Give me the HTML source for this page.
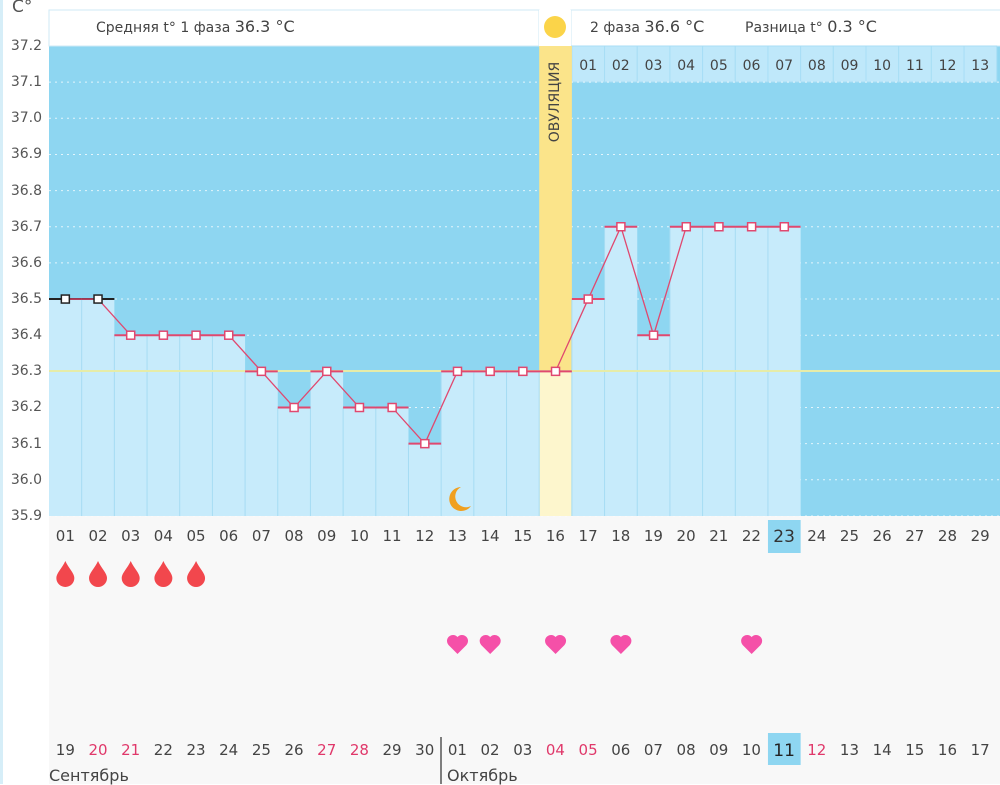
<!DOCTYPE html>
<html><head><meta charset="utf-8"><style>
body{margin:0;width:1000px;height:784px;overflow:hidden;background:#fff;font-family:"DejaVu Sans","Liberation Sans",sans-serif;position:relative}
.row{position:absolute;left:49px;display:flex;font-size:14px;color:#444}
.row span{width:32.68px;text-align:center;flex:none}
.ylab{position:absolute;left:0;width:42px;text-align:right;font-size:14px;color:#555}
.r{color:#e0386a}
</style></head><body>
<div style="position:absolute;left:0;top:0;width:3px;height:784px;background:#d6eef8"></div>
<svg id="s" width="1000" height="784" style="position:absolute;left:0;top:0"></svg>
<div style="position:absolute;left:12px;top:-3px;font-size:17px;color:#555">C°</div>
<div class="ylab" style="top:38px">37.2</div>
<div class="ylab" style="top:74px">37.1</div>
<div class="ylab" style="top:110px">37.0</div>
<div class="ylab" style="top:146px">36.9</div>
<div class="ylab" style="top:183px">36.8</div>
<div class="ylab" style="top:219px">36.7</div>
<div class="ylab" style="top:255px">36.6</div>
<div class="ylab" style="top:291px">36.5</div>
<div class="ylab" style="top:327px">36.4</div>
<div class="ylab" style="top:363px">36.3</div>
<div class="ylab" style="top:399px">36.2</div>
<div class="ylab" style="top:436px">36.1</div>
<div class="ylab" style="top:472px">36.0</div>
<div class="ylab" style="top:508px">35.9</div>
<div style="position:absolute;left:96px;top:17px;font-size:14px;color:#444">Средняя t° 1 фаза <span style="font-size:16px">36.3 °C</span></div>
<div style="position:absolute;left:590px;top:17px;font-size:14px;color:#444">2 фаза <span style="font-size:16px">36.6 °C</span></div>
<div style="position:absolute;left:745px;top:17px;font-size:14px;color:#444">Разница t° <span style="font-size:16px">0.3 °C</span></div>
<div style="position:absolute;left:541px;top:50px;width:28px;height:104px;"><div style="position:absolute;left:50%;top:50%;transform:translate(-50%,-50%) rotate(-90deg);font-size:14px;color:#444;white-space:nowrap">ОВУЛЯЦИЯ</div></div>
<div class="row" style="top:58px;left:571.8px"><span>01</span><span>02</span><span>03</span><span>04</span><span>05</span><span>06</span><span>07</span><span>08</span><span>09</span><span>10</span><span>11</span><span>12</span><span>13</span></div>
<div class="row" style="top:527px;font-size:15px"><span>01</span><span>02</span><span>03</span><span>04</span><span>05</span><span>06</span><span>07</span><span>08</span><span>09</span><span>10</span><span>11</span><span>12</span><span>13</span><span>14</span><span>15</span><span>16</span><span>17</span><span>18</span><span>19</span><span>20</span><span>21</span><span>22</span><span style="font-size:17px;color:#333">23</span><span>24</span><span>25</span><span>26</span><span>27</span><span>28</span><span>29</span></div>
<div class="row" style="top:741px;font-size:15px"><span>19</span><span class="r">20</span><span class="r">21</span><span>22</span><span>23</span><span>24</span><span>25</span><span>26</span><span class="r">27</span><span class="r">28</span><span>29</span><span>30</span><span>01</span><span>02</span><span>03</span><span class="r">04</span><span class="r">05</span><span>06</span><span>07</span><span>08</span><span>09</span><span>10</span><span style="font-size:17px;color:#222">11</span><span class="r">12</span><span>13</span><span>14</span><span>15</span><span>16</span><span>17</span></div>
<div style="position:absolute;left:49px;top:766px;font-size:16px;color:#444">Сентябрь</div>
<div style="position:absolute;left:447px;top:766px;font-size:16px;color:#444">Октябрь</div>
<script>
const s=document.getElementById('s');let h='';
const W=32.68,X0=49,Y=t=>46+(37.2-t)*361.5,L=i=>X0+(i-1)*W,C=i=>L(i)+W/2;
const T=[36.5,36.5,36.4,36.4,36.4,36.4,36.3,36.2,36.3,36.2,36.2,36.1,36.3,36.3,36.3,36.3,36.5,36.7,36.4,36.7,36.7,36.7,36.7];
h+=`<rect x="49" y="516" width="951" height="268" fill="#f8f8f8"/>`;
h+=`<rect x="49" y="46" width="951" height="470" fill="#8ed6f1"/>`;
h+=`<rect x="49" y="10" width="490" height="36" fill="#fff" stroke="#cfeaf6"/>`;
h+=`<rect x="571" y="10" width="430" height="36" fill="#fff" stroke="#cfeaf6"/>`;
h+=`<rect x="539" y="10" width="32" height="36" fill="#fff"/>`;
h+=`<circle cx="555" cy="27" r="11" fill="#fbd449"/>`;
for(let i=17;i<=29;i++)h+=`<rect x="${L(i)}" y="46" width="${W}" height="36" fill="#bfe8fa" stroke="#a8def5" stroke-width="1"/>`;
for(let k=1;k<=13;k++){const y=46+k*36.15;h+=`<line x1="49" x2="1000" y1="${y}" y2="${y}" stroke="#fff" stroke-opacity=".75" stroke-dasharray="2 4"/>`;}
h+=`<rect x="${L(16)}" y="46" width="${W}" height="470" fill="#fbe48a"/>`;
T.forEach((t,k)=>{const i=k+1;h+=`<rect x="${L(i)}" y="${Y(t)}" width="${W}" height="${516-Y(t)}" fill="${i==16?'#fdf6cd':'#c7ebfb'}"/>`;if(i>1)h+=`<line x1="${L(i)}" x2="${L(i)}" y1="${Y(t)}" y2="516" stroke="#a6dcf3"/>`;});
h+=`<line x1="49" x2="1000" y1="371" y2="371" stroke="#e6eca8" stroke-width="2"/>`;
let p=T.map((t,k)=>C(k+1)+','+Y(t)).join(' ');
T.forEach((t,k)=>{const i=k+1,c=i<3?'#222':'#e0486f';h+=`<line x1="${L(i)}" x2="${L(i)+W}" y1="${Y(t)}" y2="${Y(t)}" stroke="${c}" stroke-width="2"/>`;});
h+=`<polyline points="${p}" fill="none" stroke="#e0486f" stroke-width="1.3"/>`;
T.forEach((t,k)=>{const i=k+1,c=i<3?'#222':'#e0486f';h+=`<rect x="${C(i)-4}" y="${Y(t)-4}" width="8" height="8" fill="#fff" stroke="${c}" stroke-width="1.5"/>`;});
h+=`<path d="M461 487 a12 12 0 1 0 10 19 a10 10 0 1 1 -10 -19z" fill="#f0a020"/>`;
h+=`<rect x="${L(23)}" y="520" width="${W}" height="33" fill="#8ed6f1"/>`;
h+=`<rect x="${L(23)}" y="733" width="${W}" height="32" fill="#8ed6f1"/>`;
h+=`<line x1="441" x2="441" y1="737" y2="784" stroke="#555" stroke-width="1.5"/>`;
for(let i=1;i<=5;i++){const c=C(i);h+=`<path d="M${c} 561 C${c-3} 568 ${c-9} 573 ${c-9} 578 a9 9 0 0 0 18 0 C${c+9} 573 ${c+3} 568 ${c} 561z" fill="#f2474d"/>`;}
[13,14,16,18,22].forEach(i=>{const c=C(i),y=644;h+=`<path d="M${c} ${y+10} L${c-9} ${y+1} a5.5 5.5 0 0 1 9 -8 a5.5 5.5 0 0 1 9 8z" fill="#f550a8"/>`;});
s.innerHTML=h;
</script>
</body></html>
